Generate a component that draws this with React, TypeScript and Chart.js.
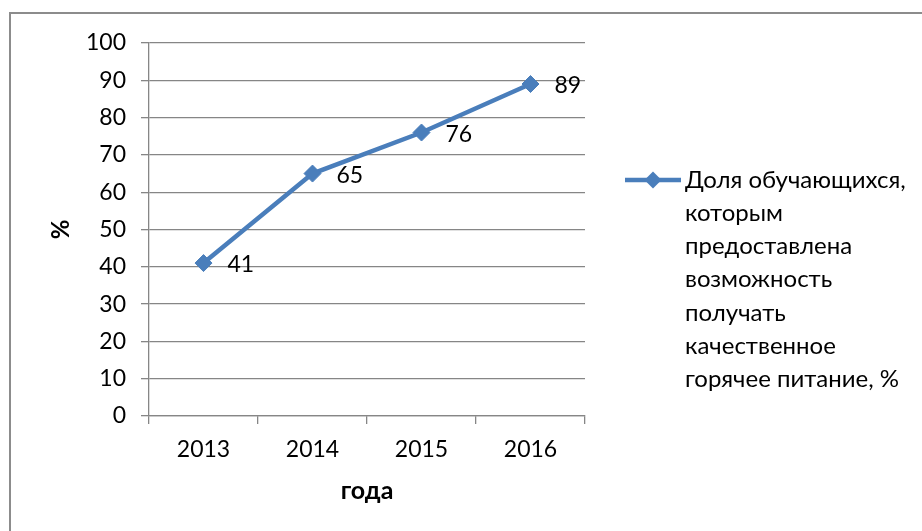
import React, { useEffect, useRef } from "react";
import { Chart, registerables } from "chart.js";

Chart.register(...registerables);

const YEARS = ["2013", "2014", "2015", "2016"];
const SHARE = [41, 65, 76, 89];
const Y_MIN = 0;
const Y_MAX = 100;
const Y_STEP = 10;
const SERIES_LABEL_LINES = [
  "Доля обучающихся,",
  "которым",
  "предоставлена",
  "возможность",
  "получать",
  "качественное",
  "горячее питание, %",
];
const X_TITLE = "года";
const Y_TITLE = "%";

const FONT = "Lato";
const BLUE = "#4A7EBB";
const GRAY = "#868686";

const dataLabels = {
  id: "dataLabels",
  afterDatasetsDraw(chart: any) {
    const ctx = chart.ctx;
    const meta = chart.getDatasetMeta(0);
    const values = chart.data.datasets[0].data;
    ctx.save();
    ctx.font = `23px ${FONT}`;
    ctx.fillStyle = "#000";
    ctx.textAlign = "left";
    ctx.textBaseline = "middle";
    meta.data.forEach((pt: any, i: number) => {
      ctx.fillText(String(values[i]), pt.x + 24, pt.y + 2);
    });
    ctx.restore();
  },
};

const sideLegend = {
  id: "sideLegend",
  afterDraw(chart: any) {
    const ctx = chart.ctx;
    const area = chart.chartArea;
    const x0 = area.right + 40;
    const y0 = 180;
    ctx.save();
    ctx.strokeStyle = BLUE;
    ctx.lineWidth = 4.5;
    ctx.beginPath();
    ctx.moveTo(x0, y0);
    ctx.lineTo(x0 + 56, y0);
    ctx.stroke();
    const cx = x0 + 28;
    const r = 8.5;
    ctx.fillStyle = BLUE;
    ctx.beginPath();
    ctx.moveTo(cx, y0 - r);
    ctx.lineTo(cx + r, y0);
    ctx.lineTo(cx, y0 + r);
    ctx.lineTo(cx - r, y0);
    ctx.closePath();
    ctx.fill();
    ctx.font = `24px ${FONT}`;
    ctx.fillStyle = "#000";
    ctx.textAlign = "left";
    ctx.textBaseline = "middle";
    SERIES_LABEL_LINES.forEach((line, i) => {
      ctx.fillText(line, x0 + 60, y0 + i * 33.2);
    });
    ctx.restore();
  },
};

export default function App() {
  const ref = useRef<HTMLCanvasElement | null>(null);

  useEffect(() => {
    if (!ref.current) return;
    const chart = new Chart(ref.current, {
      type: "line",
      data: {
        labels: YEARS,
        datasets: [
          {
            label: SERIES_LABEL_LINES.join(" "),
            data: SHARE,
            borderColor: BLUE,
            backgroundColor: BLUE,
            borderWidth: 4.5,
            pointStyle: "rectRot",
            pointRadius: 8.5,
            pointBorderWidth: 1,
            pointBackgroundColor: BLUE,
            pointBorderColor: BLUE,
            tension: 0,
          },
        ],
      },
      options: {
        responsive: false,
        animation: false,
        devicePixelRatio: 1,
        layout: { padding: { left: 0, top: 43, right: 337, bottom: 0 } },
        plugins: {
          legend: { display: false },
          tooltip: { enabled: false },
        },
        scales: {
          x: {
            type: "category",
            offset: true,
            grid: {
              display: true,
              offset: true,
              drawOnChartArea: false,
              drawTicks: true,
              tickLength: 8,
              color: GRAY,
              lineWidth: 1.3,
            },
            border: { display: true, color: GRAY, width: 1.3 },
            ticks: {
              color: "#000",
              font: { family: FONT, size: 23 },
              padding: 12,
              maxRotation: 0,
            },
            title: {
              display: true,
              text: X_TITLE,
              color: "#000",
              font: { family: FONT, size: 25, weight: "bold" },
              padding: { top: 0, bottom: 25 },
            },
            afterFit(scale: any) {
              scale.height = 115;
            },
          },
          y: {
            min: Y_MIN,
            max: Y_MAX,
            grid: {
              color: GRAY,
              lineWidth: 1.3,
              drawTicks: true,
              tickLength: 8,
            },
            border: { display: true, color: GRAY, width: 1.3 },
            ticks: {
              stepSize: Y_STEP,
              color: "#000",
              font: { family: FONT, size: 23 },
              padding: 15,
            },
            title: {
              display: true,
              text: Y_TITLE,
              color: "#000",
              font: { family: FONT, size: 24, weight: "bold" },
              padding: { top: 47, bottom: 0 },
            },
            afterFit(scale: any) {
              scale.width = 149;
            },
          },
        },
      },
      plugins: [dataLabels, sideLegend],
    });
    return () => chart.destroy();
  }, []);

  return (
    <div
      style={{
        position: "fixed",
        left: 0,
        top: 0,
        width: 922,
        height: 531,
        overflow: "hidden",
        background: "#fff",
      }}
    >
      <div
        style={{
          position: "absolute",
          left: 9,
          top: 12,
          width: 1000,
          height: 600,
          border: "2px solid #8c8c8c",
          boxSizing: "border-box",
        }}
      />
      <canvas
        ref={ref}
        width={922}
        height={531}
        style={{ position: "absolute", left: 0, top: 0, width: 922, height: 531 }}
      />
    </div>
  );
}
